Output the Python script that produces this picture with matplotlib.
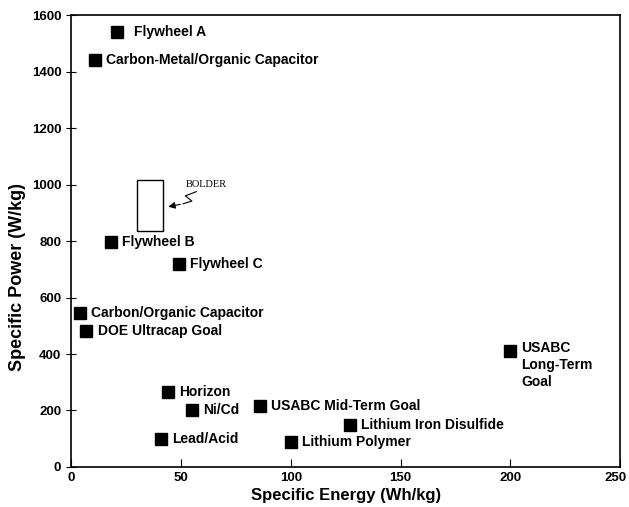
import matplotlib.pyplot as plt
import matplotlib.transforms as mtransforms
from matplotlib.patches import Rectangle

plt.rcParams['font.family'] = ['Liberation Sans', 'DejaVu Sans']

names = ["Flywheel A", "Carbon-Metal/Organic Capacitor", "Flywheel B", "Flywheel C",
         "Carbon/Organic Capacitor", "DOE Ultracap Goal", "Horizon", "Ni/Cd",
         "USABC Mid-Term Goal", "Lead/Acid", "Lithium Polymer",
         "Lithium Iron Disulfide", "USABC\nLong-Term\nGoal"]
energy = [21, 11, 18, 49, 4, 7, 44, 55, 86, 41, 100, 127, 200]
power = [1540, 1440, 795, 720, 545, 480, 265, 200, 215, 100, 90, 150, 410]

# bolder box (Wh/kg, W/kg)
box_x = [30, 42]
box_y = [835, 1015]

fig = plt.figure(figsize=(6.29, 5.07), dpi=100)
ax = fig.add_axes([0.113, 0.079, 0.873, 0.891])

ax.plot(energy, power, 's', color='black', markersize=9, linestyle='none')

for name, e, p in zip(names, energy, power):
    va = 'top' if '\n' in name else 'center'
    dy = 7 if '\n' in name else 0
    dx = 12 if name == "Flywheel A" else 8
    ax.annotate(name, (e, p), xytext=(dx, dy), textcoords='offset points',
                ha='left', va=va, fontsize=10, fontweight='bold', linespacing=1.25)

ax.add_patch(Rectangle((box_x[0], box_y[0]), box_x[1] - box_x[0], box_y[1] - box_y[0],
                       fill=False, edgecolor='black', linewidth=1))
ax.text(52, 1000, "BOLDER", family='Liberation Serif', fontsize=7.5, ha='left', va='center')
# squiggle arrow
ax.plot([57, 52, 55, 51], [975, 960, 942, 932], color='black', linewidth=0.8)
ax.annotate("", xy=(43, 920), xytext=(51, 932),
            arrowprops=dict(arrowstyle='-|>', color='black', lw=0.8, mutation_scale=10))

ax.set_xlim(0, 250)
ax.set_ylim(0, 1600)
ax.set_xticks([0, 50, 100, 150, 200, 250])
ax.set_yticks(range(0, 1601, 200))
ax.tick_params(axis='x', direction='in', length=6, labelsize=9.5)
ax.tick_params(axis='y', direction='inout', length=7, labelsize=9.5)
for lab in ax.get_xticklabels() + ax.get_yticklabels():
    lab.set_fontweight('bold')
last = ax.get_xticklabels()[-1]
last.set_transform(last.get_transform() + mtransforms.ScaledTranslation(-3 / 72, 0, fig.dpi_scale_trans))
ax.set_xlabel("Specific Energy (Wh/kg)", fontsize=12, fontweight='bold', labelpad=3)
ax.set_ylabel("Specific Power (W/kg)", fontsize=13, fontweight='bold')
ax.yaxis.set_label_coords(-0.083, 0.42)
for s in ax.spines.values():
    s.set_linewidth(1.2)

plt.savefig("out.png", dpi=100)
